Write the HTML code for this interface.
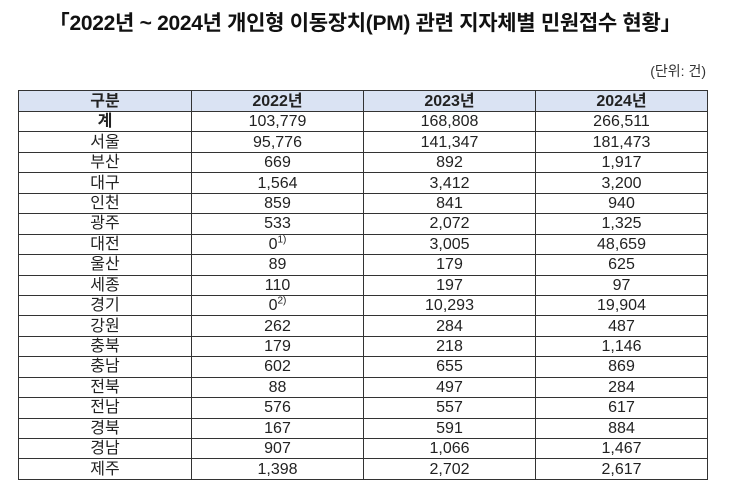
<!DOCTYPE html>
<html><head><meta charset="utf-8">
<style>
body{margin:0;width:730px;height:498px;background:#fff;position:relative;font-family:"Liberation Sans","Noto Sans CJK KR",sans-serif;color:#222;overflow:hidden}
#title{position:absolute;left:0;top:7px;width:730px;text-align:center;font-size:21px;font-weight:bold;color:#111;letter-spacing:-0.3px}
#unit{position:absolute;right:24px;top:61px;font-size:14px;color:#333}
table{position:absolute;left:18px;top:90px;border-collapse:collapse;width:689px;table-layout:fixed}
tr{height:20.45px}
tr.hdr{height:21px}
td,th{border:1.5px solid #333;padding:0;text-align:center;font-size:16px;line-height:17px;font-weight:normal}
th{background:#dae3f3;font-weight:bold}
td.bold{font-weight:bold}
sup{font-size:10px;line-height:0}
</style></head><body>
<div id="title">「2022년 ~ 2024년 개인형 이동장치(PM) 관련 지자체별 민원접수 현황」</div>
<div id="unit">(단위: 건)</div>
<table>
<colgroup><col style="width:173px"><col style="width:172px"><col style="width:172px"><col style="width:172px"></colgroup>
<tr class="hdr"><th>구분</th><th>2022년</th><th>2023년</th><th>2024년</th></tr>
<tbody id="body"></tbody>
</table>
<script>
const regions=["계","서울","부산","대구","인천","광주","대전","울산","세종","경기","강원","충북","충남","전북","전남","경북","경남","제주"];
const y2022=["103,779","95,776","669","1,564","859","533","0<sup>1)</sup>","89","110","0<sup>2)</sup>","262","179","602","88","576","167","907","1,398"];
const y2023=["168,808","141,347","892","3,412","841","2,072","3,005","179","197","10,293","284","218","655","497","557","591","1,066","2,702"];
const y2024=["266,511","181,473","1,917","3,200","940","1,325","48,659","625","97","19,904","487","1,146","869","284","617","884","1,467","2,617"];
const body=document.getElementById('body');
regions.forEach((r,i)=>{
  const tr=document.createElement('tr');
  
  
  [r,y2022[i],y2023[i],y2024[i]].forEach((v,j)=>{
    const td=document.createElement('td');
    
    
    if(i===0&&j===0)td.className='bold';
    td.innerHTML=v;
    tr.appendChild(td);
  });
  body.appendChild(tr);
});
</script>
</body></html>
